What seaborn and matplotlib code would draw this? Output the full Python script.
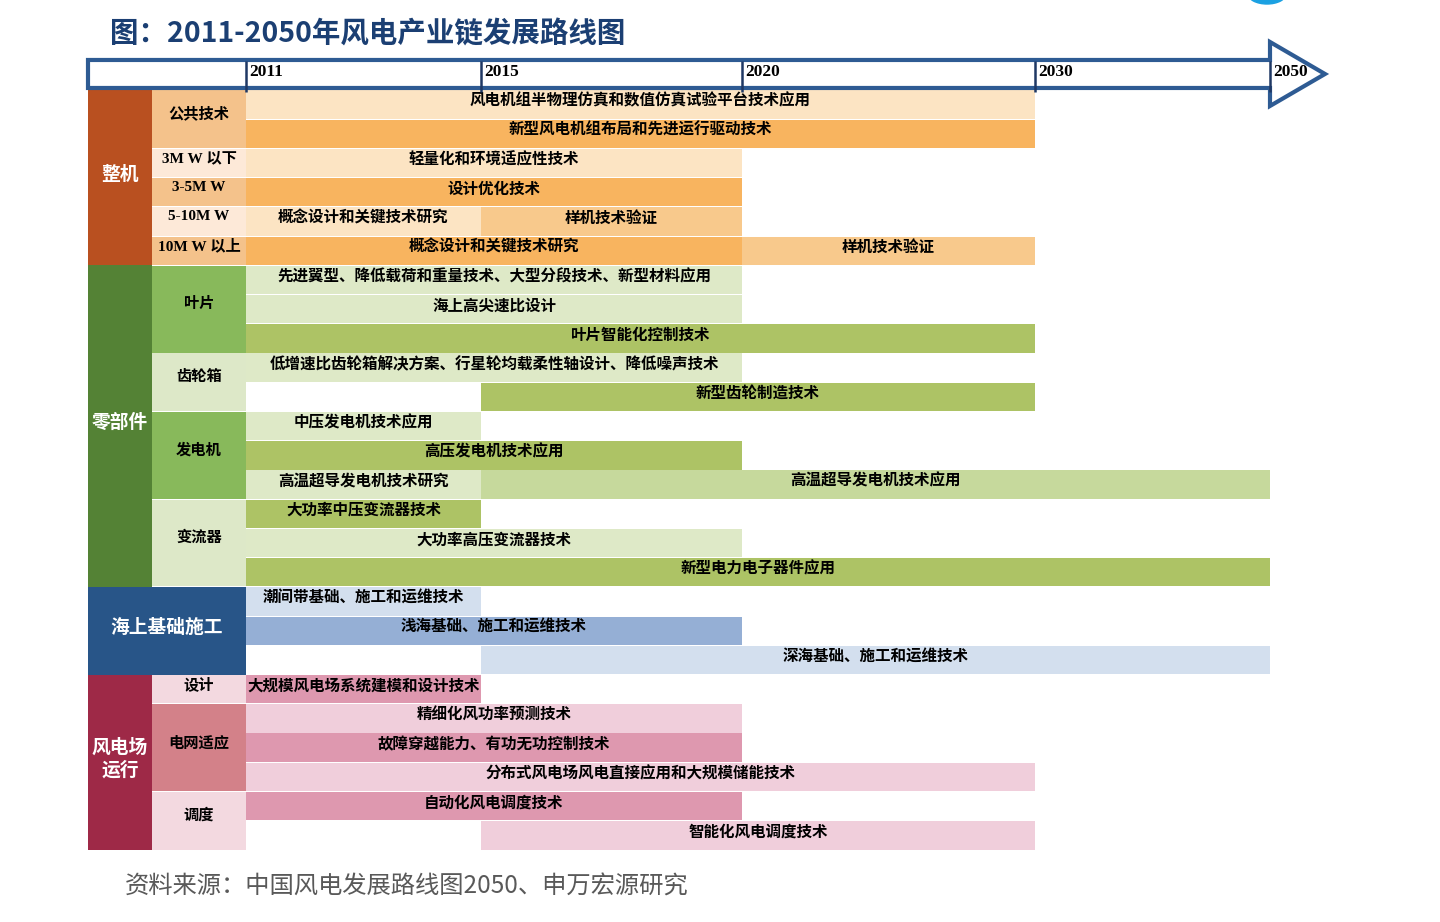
"""
2011-2050 wind power industry chain roadmap (gantt style table).
"""
import numpy as np
import pandas as pd
import matplotlib
matplotlib.use("Agg")
import matplotlib.pyplot as plt
from matplotlib.patches import Polygon, Ellipse
import seaborn as sns

# ---------------- data ----------------
years = [2011, 2015, 2020, 2030, 2050]

groups = ["整机", "零部件", "海上基础施工", "风电场\n运行"]
group_rows = [6, 11, 3, 6]

# second label column (海上基础施工 has none, its cell spans both columns)
sub_labels = ["公共技术", "3M W 以下", "3-5M W", "5-10M W", "10M W 以上",
              "叶片", "齿轮箱", "发电机", "变流器",
              "设计", "电网适应", "调度"]
sub_group = [0, 0, 0, 0, 0, 1, 1, 1, 1, 3, 3, 3]
sub_rows = [2, 1, 1, 1, 1, 3, 2, 3, 3, 1, 3, 2]
sub_tone = ["dark", "light", "dark", "light", "dark",
            "dark", "light", "dark", "light",
            "light", "dark", "light"]

task_label = [
    "风电机组半物理仿真和数值仿真试验平台技术应用", "新型风电机组布局和先进运行驱动技术",
    "轻量化和环境适应性技术", "设计优化技术",
    "概念设计和关键技术研究", "样机技术验证",
    "概念设计和关键技术研究", "样机技术验证",
    "先进翼型、降低载荷和重量技术、大型分段技术、新型材料应用", "海上高尖速比设计",
    "叶片智能化控制技术",
    "低增速比齿轮箱解决方案、行星轮均载柔性轴设计、降低噪声技术", "新型齿轮制造技术",
    "中压发电机技术应用", "高压发电机技术应用",
    "高温超导发电机技术研究", "高温超导发电机技术应用",
    "大功率中压变流器技术", "大功率高压变流器技术", "新型电力电子器件应用",
    "潮间带基础、施工和运维技术", "浅海基础、施工和运维技术", "深海基础、施工和运维技术",
    "大规模风电场系统建模和设计技术",
    "精细化风功率预测技术", "故障穿越能力、有功无功控制技术",
    "分布式风电场风电直接应用和大规模储能技术",
    "自动化风电调度技术", "智能化风电调度技术",
]
task_row = [0, 1, 2, 3, 4, 4, 5, 5, 6, 7, 8, 9, 10, 11, 12, 13, 13,
            14, 15, 16, 17, 18, 19, 20, 21, 22, 23, 24, 25]
task_start = [2011, 2011, 2011, 2011, 2011, 2015, 2011, 2020, 2011, 2011, 2011,
              2011, 2015, 2011, 2011, 2011, 2015, 2011, 2011, 2011,
              2011, 2011, 2015, 2011, 2011, 2011, 2011, 2011, 2015]
task_end = [2030, 2030, 2020, 2020, 2015, 2020, 2020, 2030, 2020, 2020, 2030,
            2020, 2030, 2015, 2020, 2015, 2050, 2015, 2020, 2050,
            2015, 2020, 2050, 2015, 2020, 2020, 2030, 2020, 2030]
task_tone = ["light", "strong", "light", "strong", "light", "mid", "strong", "mid",
             "light", "light", "strong", "light", "strong", "light", "strong",
             "light", "mid", "strong", "light", "strong",
             "light", "strong", "light", "strong", "light", "strong", "light",
             "strong", "light"]

# ---------------- style ----------------
colors = {
    0: dict(head="#B95020", dark="#F4C28B", light="#FDE9D8",
            bar_light="#FCE4C3", bar_strong="#F8B45F", bar_mid="#F8C98C"),
    1: dict(head="#548235", dark="#88B95B", light="#DDE8C8",
            bar_light="#DEE9C7", bar_strong="#ADC365", bar_mid="#C6D99C"),
    2: dict(head="#285588", dark="#285588", light="#285588",
            bar_light="#D3DFEE", bar_strong="#95AFD5", bar_mid="#B7C9E3"),
    3: dict(head="#9E2947", dark="#D38189", light="#F3D9E0",
            bar_light="#F0CEDB", bar_strong="#DE98AF", bar_mid="#E8B5C6"),
}
line_blue = "#2E5B93"
navy = "#1F3864"

# x layout: timeline columns are not proportional to years
year_x = [0.0, 2.35, 4.96, 7.89, 10.24]
xpos = dict(zip(years, year_x))
grp_left, sub_left = -1.58, -0.94
tip_x = 10.79

sns.set_theme(style="white")
plt.rcParams['font.family'] = ['Noto Sans CJK SC', 'DejaVu Sans']

fig = plt.figure(figsize=(14.4, 9.22), dpi=100)
ax = fig.add_axes([88 / 1440, 1 - 852 / 922, (1330 - 88) / 1440, (852 - 40) / 922])
ax.set_xlim(-1.58, 10.84)
ax.set_ylim(26.07, -1.71)
ax.axis("off")

# group of every row
row_group = np.repeat(np.arange(len(groups)), group_rows)

df = pd.DataFrame(dict(label=task_label, row=task_row, start=task_start,
                       end=task_end, tone=task_tone))
df["x0"] = df["start"].map(xpos)
df["x1"] = df["end"].map(xpos)
df["group"] = row_group[df["row"]]

# task bars
for _, t in df.iterrows():
    c = colors[t["group"]]["bar_" + t["tone"]]
    ax.barh(t["row"] + 0.5, t["x1"] - t["x0"], left=t["x0"], height=0.97,
            color=c, linewidth=0, zorder=1)
    ax.text((t["x0"] + t["x1"]) / 2, t["row"] + 0.37, t["label"],
            ha="center", va="center", fontsize=11.2, fontweight="bold",
            color="black", zorder=2)

# group cells
g_start = np.concatenate([[0], np.cumsum(group_rows)[:-1]])
for gi, (name, r0, n) in enumerate(zip(groups, g_start, group_rows)):
    has_sub = gi in sub_group
    right = sub_left if has_sub else 0.0
    ax.barh(r0 + n / 2, right - grp_left, left=grp_left, height=n,
            color=colors[gi]["head"], linewidth=0, zorder=1)
    ax.text((grp_left + right) / 2, r0 + n / 2 - 0.12, name, ha="center",
            va="center", fontsize=13.5, fontweight="bold", color="white",
            linespacing=1.25, zorder=2)

# sub cells
offset = {gi: r0 for gi, r0 in enumerate(g_start)}
for name, gi, n, tone in zip(sub_labels, sub_group, sub_rows, sub_tone):
    r0 = offset[gi]
    offset[gi] += n
    ax.barh(r0 + n / 2, 0 - sub_left, left=sub_left, height=n - 0.03,
            color=colors[gi][tone], linewidth=0, zorder=1)
    ax.text(sub_left / 2, r0 + n / 2 - 0.17, name, ha="center", va="center",
            fontsize=11, fontweight="bold", color="black",
            family=["Liberation Serif", "Noto Sans CJK SC"], zorder=2)

# timeline arrow header
def ry(py):
    return (py - 90) / 29.23

arrow = Polygon([(grp_left, ry(60)), (year_x[-1], ry(60)), (year_x[-1], ry(42)),
                 (tip_x, ry(74)), (year_x[-1], ry(106)), (year_x[-1], ry(88)),
                 (grp_left, ry(88))], closed=True, facecolor="white",
                edgecolor=line_blue, linewidth=3.0, joinstyle="miter",
                zorder=3, clip_on=False)
ax.add_patch(arrow)
ax.vlines(year_x, ry(61), ry(92), color=navy, linewidth=1.8, zorder=4)
for yr, x in zip(years, year_x):
    ax.text(x + 0.03, ry(72), str(yr), ha="left", va="center",
            fontfamily="Liberation Serif", fontweight="bold", fontsize=12.5,
            color="black", zorder=5)

# title, source and logo fragment
fig.text(110 / 1440, 1 - 35 / 922, "图：2011-2050年风电产业链发展路线图",
         fontsize=20.5, fontweight="bold", color="#1B3F73", va="center")
fig.text(125 / 1440, 1 - 887 / 922, "资料来源：中国风电发展路线图2050、申万宏源研究",
         fontsize=17.5, color="#595959", va="center")
fig.patches.append(Ellipse((1267 / 1440, 1 + 6 / 922), 38 / 1440, 20 / 922,
                           transform=fig.transFigure, color="#1BA1E2"))

fig.savefig("out.png", dpi=100)
